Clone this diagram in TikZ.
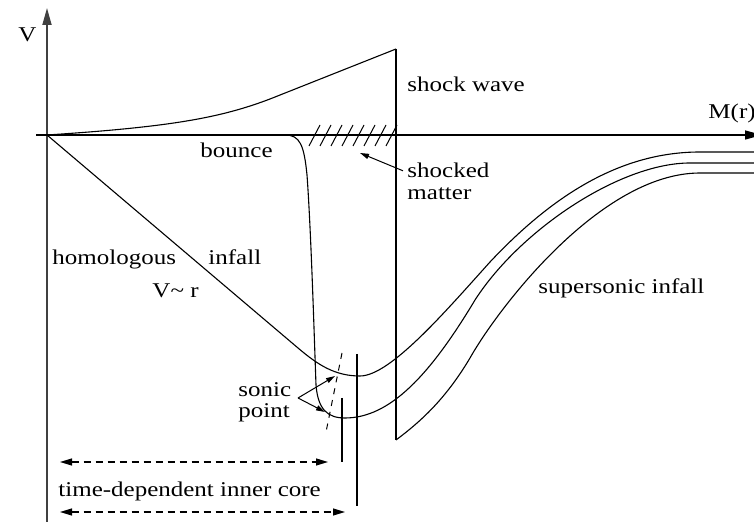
\documentclass[tikz,border=0pt]{standalone}
\usepackage{fontspec}
\setmainfont{Liberation Serif}
\usetikzlibrary{arrows.meta}

\tikzset{
  lbl/.style={font=\fontsize{10.5}{12}\selectfont, inner sep=0pt, xscale=1.19, anchor=base west},
  kurve/.style={line width=0.55pt},
  achse/.style={line width=0.9pt, black!75},
  pfeil/.style={-{Triangle[length=4.5pt,width=2.6pt]}, line width=0.5pt},
  bereich/.style={dash pattern=on 3.5pt off 2.5pt, line width=0.6pt,
    {Triangle[length=6pt,width=3.5pt]}-{Triangle[length=6pt,width=3.5pt]}},
}

\begin{document}
\begin{tikzpicture}[x=0.5pt,y=-0.5pt]
  \useasboundingbox (0,0) rectangle (754,522);

  % Achsen
  \draw[achse,-{Triangle[length=8.5pt,width=4.5pt]}] (47,522) -- (47,8);
  \draw[line width=0.7pt,-{Triangle[length=8.5pt,width=4.5pt]}] (36,135) -- (762,135);
  \node[lbl] (vlab) at (18,42) {V};
  \node[lbl] (mlab) at (708,119) {M(r)};

  % Stosswelle
  \draw[kurve] (47,135) .. controls (170,127) and (220,118) .. (270,99) -- (396,49);
  \draw[kurve] (396,49) -- (396,440);
  \foreach \hx in {309,320,...,386}
    \draw[line width=0.5pt] (\hx,146) -- ++(11,-21);

  % Kurven
  \draw[kurve] (47,135) -- (298,348) .. controls (318,365) and (335,376) .. (360,376)
    .. controls (390,376) and (445,312) .. (490,262)
    .. controls (552,196) and (620,152) .. (700,152) -- (756,152);
  \draw[kurve] (277,135) -- (285,135) .. controls (300,135) and (304,145) .. (307,175)
    .. controls (311,230) and (314,330) .. (316,385)
    .. controls (318,410) and (328,418) .. (345,418)
    .. controls (390,418) and (430,375) .. (475,300)
    .. controls (520,230) and (620,163) .. (690,163) -- (756,163);
  \draw[kurve] (396,440) .. controls (420,422) and (445,400) .. (470,358)
    .. controls (497,310) and (600,173) .. (700,173) -- (756,173);

  % Schallpunkt
  \draw[line width=0.5pt, dash pattern=on 3pt off 3pt] (342,353) -- (326,432);
  \draw[line width=0.6pt] (342,398) -- (342,462);
  \draw[line width=0.6pt] (357,354) -- (357,506);
  \coordinate (sonictail) at (298,398);
  \coordinate (sp1) at (335,376);
  \coordinate (sp2) at (325,412);
  \draw[pfeil] (sonictail) -- (sp1);
  \draw[pfeil] (sonictail) -- (sp2);

  % Beschriftungen
  \node[lbl] (shockwave) at (407,92) {shock wave};
  \node[lbl] (shocked) at (407,178) {shocked};
  \node[lbl] (matter) at (407,200) {matter};
  \coordinate (hatchpt) at (360,153);
  \draw[pfeil] ([xshift=-2pt]shocked.west) -- (hatchpt);
  \node[lbl] (bounce) at (200,158) {bounce};
  \node[lbl] (homol) at (52,265) {homologous};
  \node[lbl] (infall) at (208,265) {infall};
  \node[lbl] (vr) at (152,298) {V\textasciitilde{} r};
  \node[lbl] (superson) at (538,294) {supersonic infall};
  \node[lbl] (sonic) at (238,397) {sonic};
  \node[lbl] (point) at (238,418) {point};

  % innerer Kern
  \coordinate (c1l) at (60,462);
  \coordinate (c1r) at (328,462);
  \coordinate (c2l) at (60,512);
  \coordinate (c2r) at (345,512);
  \draw[bereich] (c1l) -- (c1r);
  \node[lbl] (core) at (58,497) {time-dependent inner core};
  \draw[bereich] (c2l) -- (c2r);
\end{tikzpicture}
\end{document}
